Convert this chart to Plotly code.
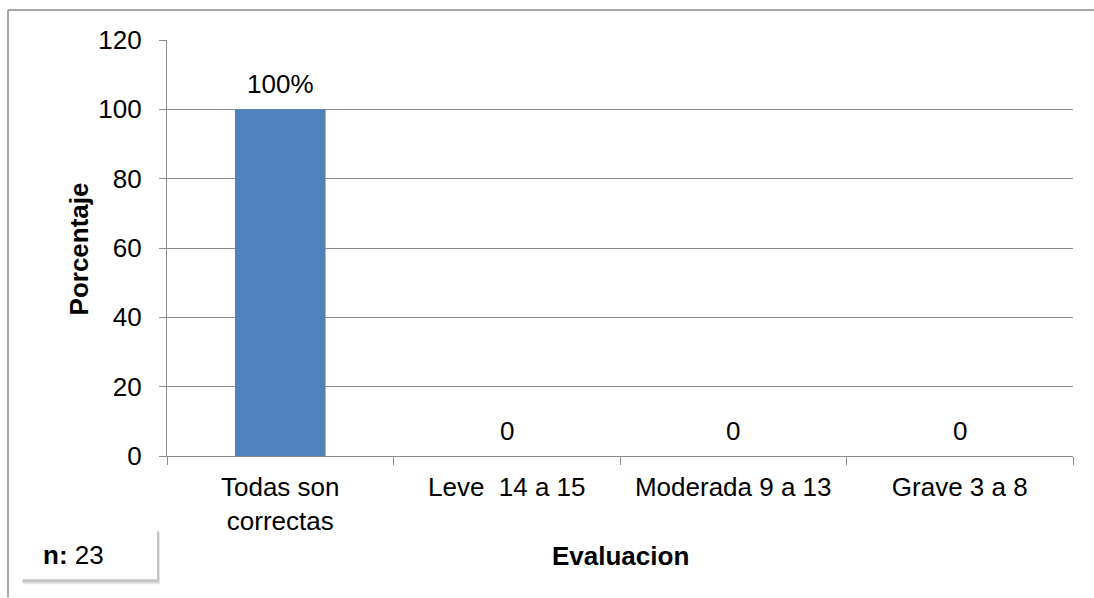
import plotly.graph_objects as go

categories = ["Todas son<br>correctas", "Leve  14 a 15", "Moderada 9 a 13", "Grave 3 a 8"]
values = [100, 0, 0, 0]
value_labels = ["100%", "0", "0", "0"]
y_ticks = [0, 20, 40, 60, 80, 100, 120]
x_title = "Evaluacion"
y_title = "Porcentaje"
n_text = "<b>n:</b> 23"

W, H = 1094, 598
L, R, T, B = 167, 1073, 40, 456.5
FONT = "Liberation Sans, Arial, sans-serif"
FS = 26
GRID = "#8c8c8c"


def px(x):
    return (x - L) / (R - L)


def py(y):
    return (B - y) / (B - T)


fig = go.Figure()
fig.add_trace(go.Bar(
    x=categories, y=values, width=0.4,
    marker=dict(color="#4f81bd", line=dict(width=0)),
    hoverinfo="skip",
))

annotations = []
for c, v, t in zip(categories, values, value_labels):
    annotations.append(dict(
        x=c, y=v, xref="x", yref="y", text=t, showarrow=False,
        yanchor="middle", yshift=25,
        font=dict(family=FONT, size=FS, color="black"),
    ))

annotations.append(dict(
    x=0.5, y=py(557), xref="paper", yref="paper", text="<b>%s</b>" % x_title,
    showarrow=False, xanchor="center", yanchor="middle",
    font=dict(family=FONT, size=FS, color="black"),
))
annotations.append(dict(
    x=px(78.7), y=py(249), xref="paper", yref="paper", text="<b>%s</b>" % y_title,
    showarrow=False, xanchor="center", yanchor="middle", textangle=-90,
    font=dict(family=FONT, size=FS, color="black"),
))
annotations.append(dict(
    x=px(41), y=py(556), xref="paper", yref="paper", text=n_text,
    showarrow=False, xanchor="left", yanchor="middle",
    font=dict(family=FONT, size=FS, color="black"),
))

shapes = [
    # outer chart border (top and left visible)
    dict(type="line", xref="paper", yref="paper", x0=px(8), x1=px(1094), y0=py(10), y1=py(10),
         line=dict(color="#8a8a8a", width=1.5)),
    dict(type="line", xref="paper", yref="paper", x0=px(8), x1=px(8), y0=py(10), y1=py(598),
         line=dict(color="#8a8a8a", width=1.5)),
    # n box shadow
    dict(type="rect", xref="paper", yref="paper", x0=px(23), x1=px(160), y0=py(533), y1=py(585),
         fillcolor="rgba(0,0,0,0.10)", line=dict(width=0), layer="above"),
    dict(type="rect", xref="paper", yref="paper", x0=px(22), x1=px(159), y0=py(531), y1=py(583),
         fillcolor="rgba(0,0,0,0.14)", line=dict(width=0), layer="above"),
    dict(type="rect", xref="paper", yref="paper", x0=px(21), x1=px(157), y0=py(530), y1=py(580),
         fillcolor="white", line=dict(width=0), layer="above"),
]

fig.update_layout(
    width=W, height=H,
    margin=dict(l=L, r=W - R, t=T, b=H - B, pad=0),
    paper_bgcolor="white", plot_bgcolor="white",
    showlegend=False,
    font=dict(family=FONT, size=FS, color="black"),
    annotations=annotations,
    shapes=shapes,
    bargap=0.6,
)
fig.update_xaxes(
    type="category", showline=True, linecolor=GRID, linewidth=1.3,
    ticks="outside", ticklen=8, tickcolor=GRID, tickwidth=1.3,
    tickson="boundaries", showgrid=False, ticklabelstandoff=8,
    tickfont=dict(family=FONT, size=FS, color="black"),
)
fig.update_yaxes(
    range=[0, 120], tickvals=y_ticks, showline=True, linecolor=GRID, linewidth=1.3,
    ticks="outside", ticklen=7, tickcolor=GRID, tickwidth=1.3,
    showgrid=True, gridcolor=GRID, gridwidth=1.3, zeroline=False,
    ticklabelstandoff=12,
    tickfont=dict(family=FONT, size=FS, color="black"),
)

fig.write_html("out.html", config={"displayModeBar": False})
